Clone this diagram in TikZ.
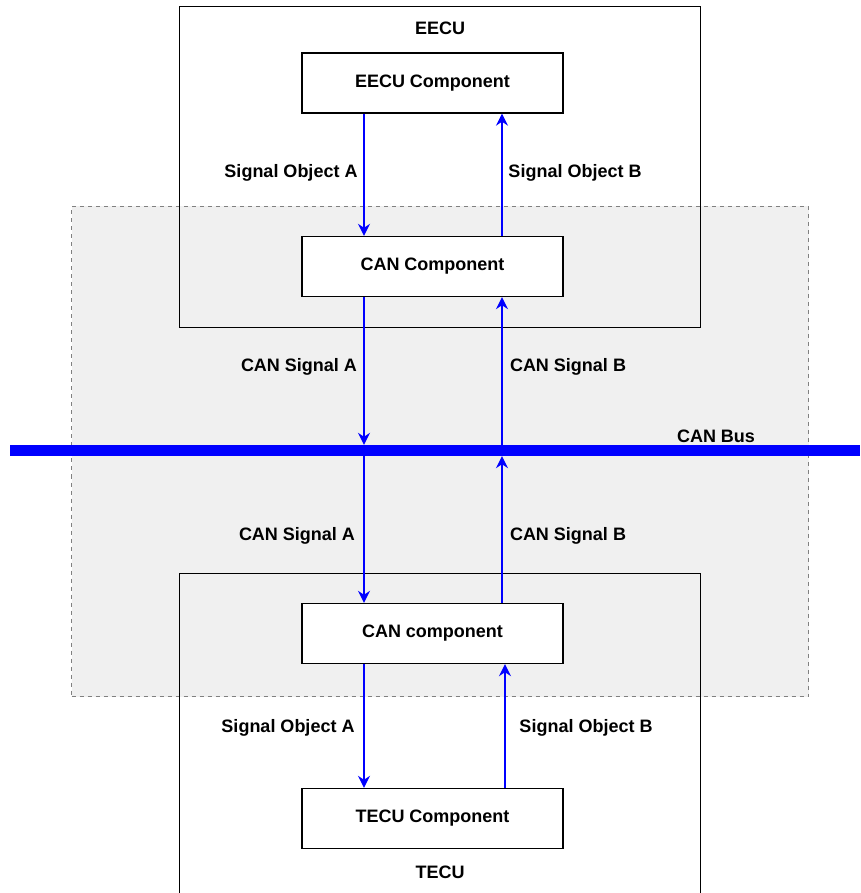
\documentclass[tikz,border=0pt]{standalone}
\usepackage{fontspec}
\setmainfont{Liberation Sans}
\usetikzlibrary{arrows.meta,calc}
\definecolor{zonegrey}{HTML}{F0F0F0}
\definecolor{zoneline}{HTML}{808080}
\begin{document}
\begin{tikzpicture}[x=1pt,y=-1pt,
  every node/.style={font=\fontsize{18}{21}\selectfont\bfseries, inner sep=0pt},
  comp/.style={draw=black, line width=1.4pt, fill=white, minimum width=261pt, minimum height=60pt},
  sig/.style={draw=blue, line width=1.3pt, -{Stealth[length=12pt,width=12pt,inset=4pt]}},
  lbl/.style={}]
\useasboundingbox (0,0) rectangle (860,893);
\clip (0,0) rectangle (860,893);
\fill[white] (0,0) rectangle (860,893);
% CAN zone
\node[draw=zoneline, dashed, dash pattern=on 4pt off 4pt, line width=1pt, fill=zonegrey,
      minimum width=737pt, minimum height=490pt, anchor=north west] (zone) at (71,206) {};
% ECU frames
\node[draw=black, line width=1.4pt, minimum width=521pt, minimum height=321pt, anchor=north west] (eecu) at (179,6) {};
\node[draw=black, line width=1.4pt, minimum width=521pt, minimum height=340pt, anchor=north west] (tecu) at (179,573) {};
\node (eeculbl) at (440,28) {EECU};
\node (teculbl) at (440,872) {TECU};
% components
\node[comp] (eecuc) at (432.5,83) {EECU Component};
\node[comp] (canc1) at (432.5,266.5) {CAN Component};
\node[comp] (canc2) at (432.5,633.5) {CAN component};
\node[comp] (tecuc) at (432.5,818.5) {TECU Component};
% bus
\node[fill=blue, minimum width=850pt, minimum height=11pt, anchor=west] (bus) at (10,450.5) {};
\node (buslbl) at (716,436) {CAN Bus};
% arrow x positions
\coordinate (xl) at (364,0);
\coordinate (xr) at (502,0);
\coordinate (xr2) at (505,0);
% arrows
\draw[sig] (eecuc.south -| xl) -- (canc1.north -| xl);
\draw[sig] (canc1.north -| xr) -- (eecuc.south -| xr);
\draw[sig] (canc1.south -| xl) -- (bus.north -| xl);
\draw[sig] (bus.north -| xl) -- (canc2.north -| xl);
\draw[sig] (canc2.north -| xr) -- (bus.south -| xr);
\draw[sig] (bus.south -| xr) -- (canc1.south -| xr);
\draw[sig] (canc2.south -| xl) -- (tecuc.north -| xl);
\draw[sig] (tecuc.north -| xr2) -- (canc2.south -| xr2);
% labels
\node[lbl] (l1) at (291,173) {Signal Object A};
\node[lbl] (l2) at (575,173) {Signal Object B};
\node[lbl] (l3) at (299,367) {CAN Signal A};
\node[lbl] (l4) at (568,367) {CAN Signal B};
\node[lbl] (l5) at (297,536) {CAN Signal A};
\node[lbl] (l6) at (568,536) {CAN Signal B};
\node[lbl] (l7) at (288,728) {Signal Object A};
\node[lbl] (l8) at (586,728) {Signal Object B};
\end{tikzpicture}
\end{document}
